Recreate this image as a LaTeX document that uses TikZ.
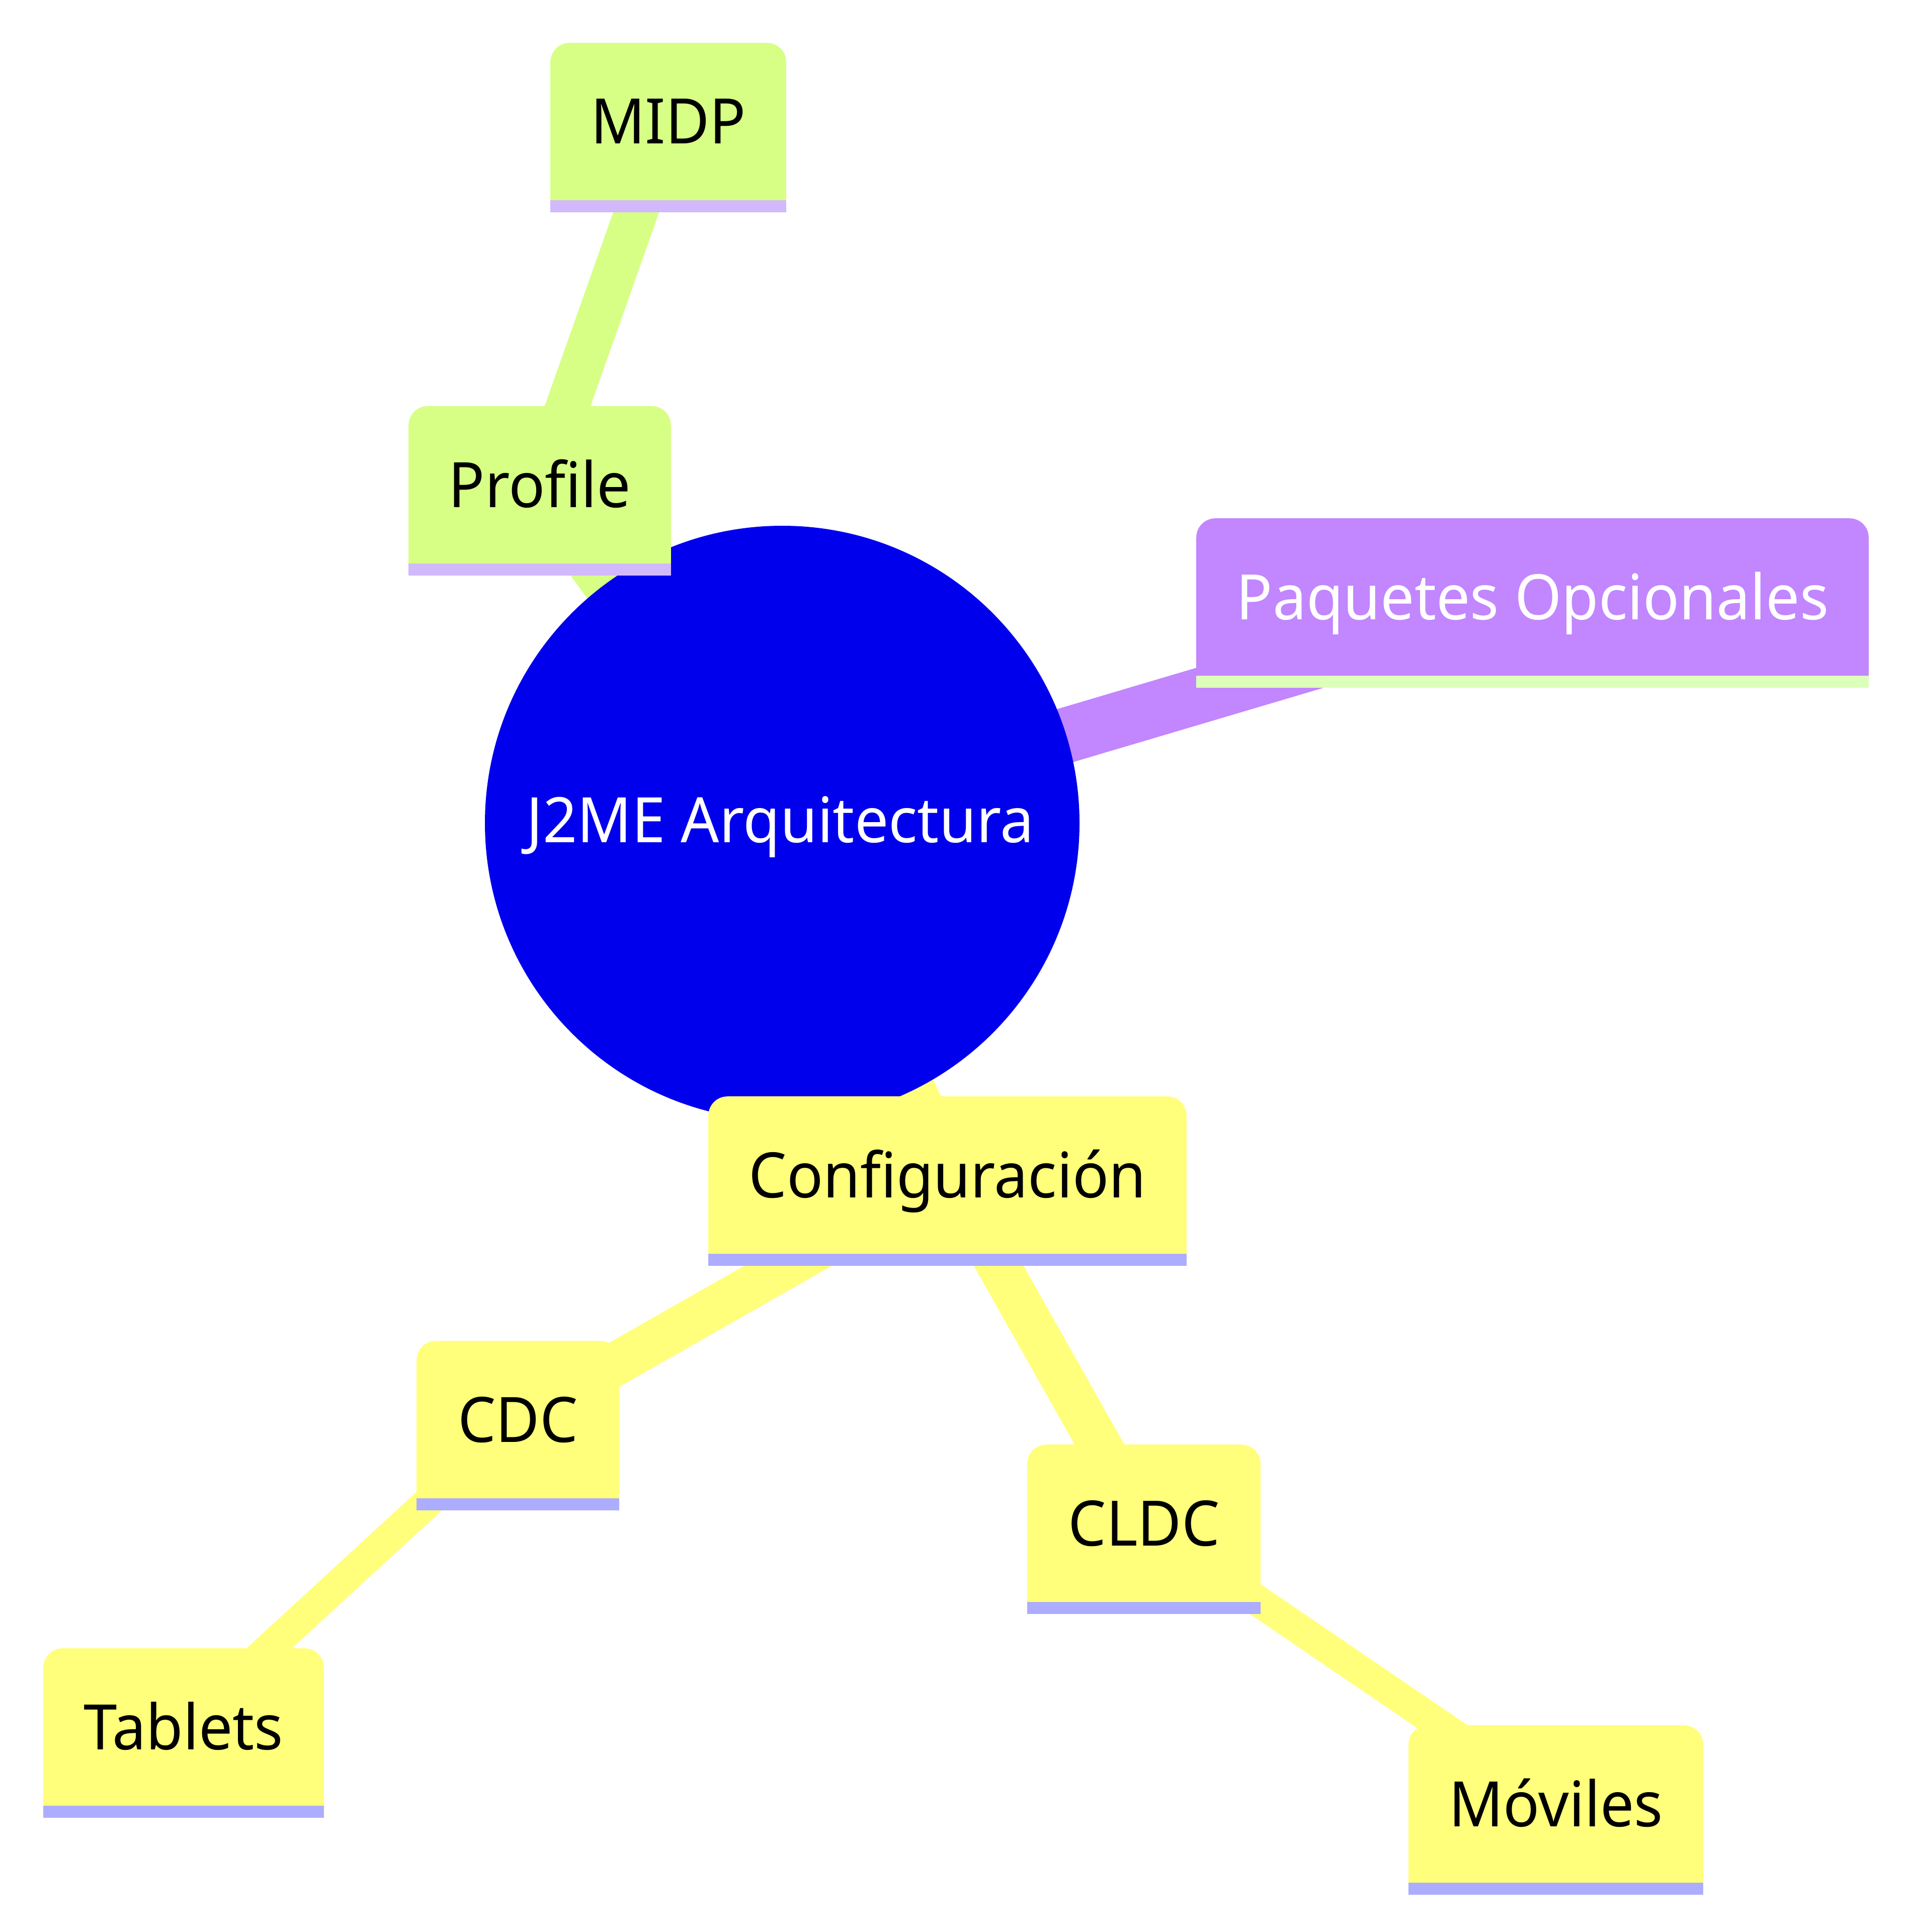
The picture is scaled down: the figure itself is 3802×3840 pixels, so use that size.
\documentclass[tikz,border=0pt]{standalone}
\usepackage{fontspec}
\setmainfont{Noto Sans}[FakeStretch=0.96]
\pgfdeclarelayer{edges}
\pgfdeclarelayer{rootl}
\pgfdeclarelayer{boxes}
\pgfsetlayers{edges,rootl,boxes,main}
\definecolor{rootblue}{HTML}{0000EC}
\definecolor{limefill}{HTML}{D7FF86}
\definecolor{limestripe}{HTML}{D1B9FC}
\definecolor{yelfill}{HTML}{FFFF7B}
\definecolor{yelstripe}{HTML}{ADADFF}
\definecolor{purfill}{HTML}{C286FF}
\definecolor{purstripe}{HTML}{DCFFBA}
\newcommand{\mmboxbg}[3]{%
  \begin{pgfonlayer}{boxes}
    \fill[#2, rounded corners=9.5pt] (#1.north west) rectangle (#1.south east);
    \fill[#2] (#1.west) rectangle (#1.south east);
    \fill[#3] (#1.south west) rectangle ([yshift=-6pt]#1.south east);
  \end{pgfonlayer}}
\begin{document}
\begin{tikzpicture}[x=0.25pt,y=-0.25pt,
  mmtext/.style={inner sep=0pt, minimum height=77.75pt, text height=22.25pt, text depth=0pt,
    font=\fontsize{31.15}{37}\selectfont, text=black},
  e0/.style={line width=27.5pt},
  e1/.style={line width=21.5pt},
  e2/.style={line width=15.25pt}]
\useasboundingbox (0,0) rectangle (3802,3840);

\node[mmtext, circle, minimum size=10pt, text=white] (root) at (1551,1630) {J2ME Arquitectura};
\node[mmtext, minimum width=116.75pt] (midp) at (1328.5,241.5) {MIDP};
\node[mmtext, minimum width=130pt] (profile) at (1073,963.5) {Profile};
\node[mmtext, minimum width=333.75pt, text=white] (paq) at (3046.5,1186.5) {Paquetes Opcionales};
\node[mmtext, minimum width=237.25pt] (config) at (1883.5,2335.5) {Configuración};
\node[mmtext, minimum width=100.25pt] (cdc) at (1029.5,2821.5) {CDC};
\node[mmtext, minimum width=139pt] (tablets) at (365,3432.5) {Tablets};
\node[mmtext, minimum width=115.5pt] (cldc) at (2274,3027.5) {CLDC};
\node[mmtext, minimum width=146pt] (moviles) at (3093,3585.5) {Móviles};

\begin{pgfonlayer}{rootl}
  \fill[rootblue] (1555,1636) circle[radius=591];
\end{pgfonlayer}

\begin{pgfonlayer}{edges}
  \draw[e0, limefill] (root.center) -- (profile.center);
  \draw[e1, limefill] (profile.center) -- (midp.center);
  \draw[e0, purfill] (root.center) -- (paq.center);
  \draw[e0, yelfill] (root.center) -- (config.center);
  \draw[e1, yelfill] (config.center) -- (cdc.center);
  \draw[e1, yelfill] (config.center) -- (cldc.center);
  \draw[e2, yelfill] (cdc.center) -- (tablets.center);
  \draw[e2, yelfill] (cldc.center) -- (moviles.center);
\end{pgfonlayer}

\mmboxbg{midp}{limefill}{limestripe}
\mmboxbg{profile}{limefill}{limestripe}
\mmboxbg{paq}{purfill}{purstripe}
\mmboxbg{config}{yelfill}{yelstripe}
\mmboxbg{cdc}{yelfill}{yelstripe}
\mmboxbg{tablets}{yelfill}{yelstripe}
\mmboxbg{cldc}{yelfill}{yelstripe}
\mmboxbg{moviles}{yelfill}{yelstripe}
\end{tikzpicture}
\end{document}
